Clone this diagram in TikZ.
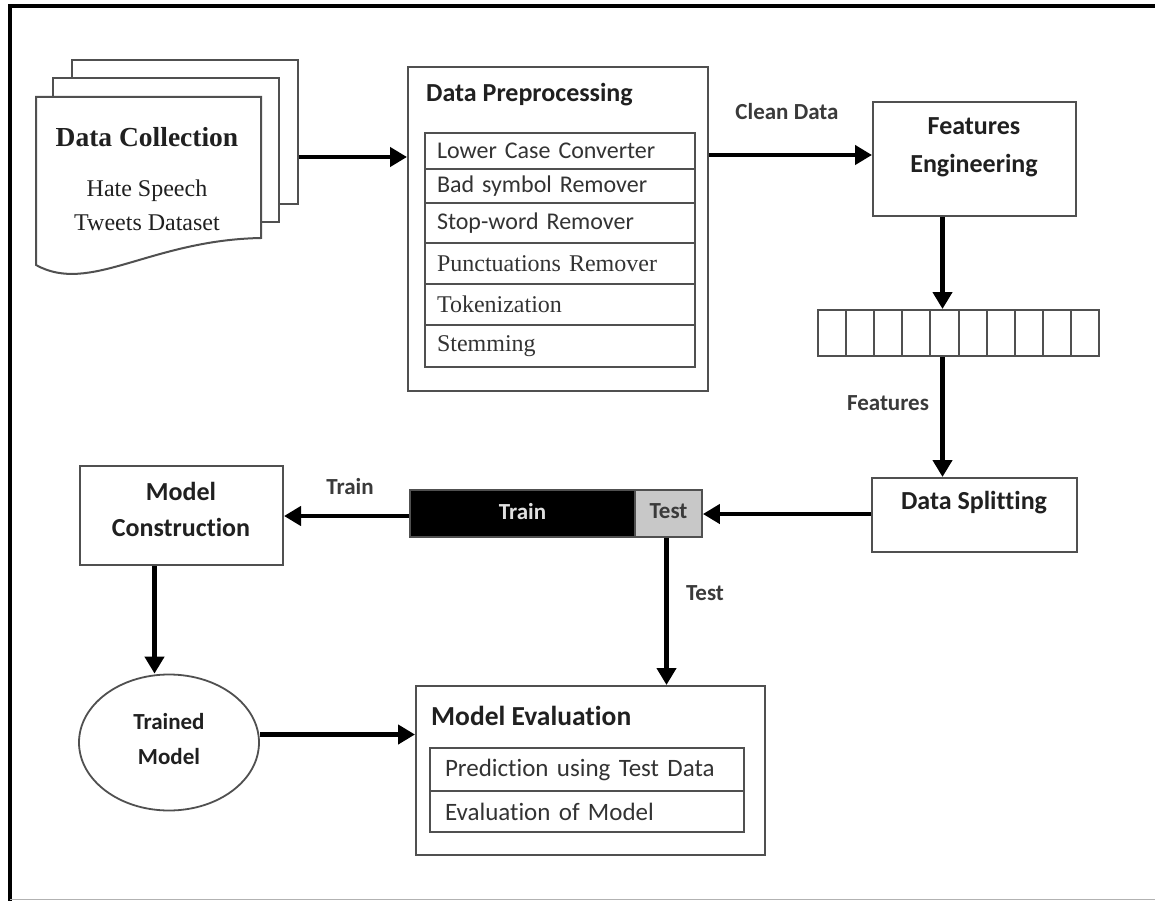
\documentclass[tikz,border=0pt]{standalone}
\usepackage{fontspec}
\setmainfont{Liberation Serif}
\newfontfamily\calfont[Ligatures=NoCommon]{Carlito}
\usetikzlibrary{arrows.meta,shapes.geometric}
\definecolor{boxc}{HTML}{505050}
\definecolor{txtc}{HTML}{202020}
\definecolor{labc}{HTML}{3a3a3a}
\definecolor{rowc}{HTML}{333333}
\definecolor{testc}{HTML}{C8C8C8}
\begin{document}
\begin{tikzpicture}[x=1pt,y=-1pt,
  box/.style={draw=boxc, line width=2pt, fill=white, inner sep=0pt},
  row/.style={draw=boxc, line width=1.8pt, inner ysep=0pt, align=left, text=rowc},
  arr/.style={line width=4.5pt, -{Triangle[length=17pt,width=19pt]}},
  hd/.style={font=\calfont\bfseries\fontsize{26}{38}\selectfont, text=txtc, align=center, inner sep=0pt},
  lab/.style={font=\calfont\bfseries\fontsize{23}{26}\selectfont, text=labc, inner sep=0pt},
  calrow/.style={font=\calfont\fontsize{24}{27}\selectfont},
  serrow/.style={font=\fontsize{24}{27}\selectfont},
  sheet/.style={draw=boxc, line width=2pt, fill=white}
]
\useasboundingbox (0,0) rectangle (1155,901);
\fill[white] (0,0) rectangle (1155,901);
% frame
\draw[line width=4.5pt] (10,901) -- (10,6) -- (1155,6);
\draw[gray!60, line width=1.5pt] (10,899.5) -- (1155,899.5);

% data collection stack
\node[sheet, minimum width=226pt, minimum height=144pt, inner sep=0pt] (dc3) at (185,132) {};
\node[sheet, minimum width=226pt, minimum height=144pt, inner sep=0pt] (dc2) at (166,150) {};
\draw[sheet] (36,97) -- (261,97) -- (261,238) .. controls (150,240) and (90,295) .. (36,265) -- cycle;
\node[font=\bfseries\fontsize{27.5}{30}\selectfont, text=txtc, inner sep=0pt] (dct) at (147,137) {Data Collection};
\node[font=\fontsize{24}{34}\selectfont, text=txtc, align=center, inner sep=0pt] (dcs) at (147,205) {Hate Speech\\Tweets Dataset};

% data preprocessing
\node[box, minimum width=300pt, minimum height=324pt] (pp) at (558,229) {};
\node[hd, anchor=west] (ppt) at (426,95) {Data Preprocessing};
\node[row, calrow, text width=246pt, inner xsep=12pt, minimum height=36pt] (r1) at (560,151) {Lower Case Converter};
\node[row, calrow, text width=246pt, inner xsep=12pt, minimum height=34pt] (r2) at (560,186) {Bad symbol Remover};
\node[row, calrow, text width=246pt, inner xsep=12pt, minimum height=40pt] (r3) at (560,223) {Stop-word Remover};
\node[row, serrow, text width=246pt, inner xsep=12pt, minimum height=41pt] (r4) at (560,263.5) {Punctuations Remover};
\node[row, serrow, text width=246pt, inner xsep=12pt, minimum height=41pt] (r5) at (560,304.5) {Tokenization};
\node[row, serrow, text width=246pt, inner xsep=12pt, minimum height=42pt] (r6) at (560,346) {Stemming};

% features engineering
\node[box, minimum width=203pt, minimum height=114pt] (fe) at (974.5,159) {};
\node[hd] (fet) at (974,147) {Features\\Engineering};

% feature vector
\node[box, minimum width=281pt, minimum height=46pt] (vec) at (958.5,333) {};
\foreach \i in {1,...,9} {
  \draw[boxc, line width=2pt] (818+\i*28.1,310) -- (818+\i*28.1,356);
}

% data splitting
\node[box, minimum width=205pt, minimum height=74pt] (ds) at (974.5,515) {};
\node[hd] (dst) at (974,503) {Data Splitting};

% train / test bar
\node[draw=boxc, line width=1.8pt, fill=black, minimum width=225pt, minimum height=47pt, inner sep=0pt,
      font=\calfont\bfseries\fontsize{23}{26}\selectfont, text=white!88!black] (trn) at (522.5,513.5) {\raisebox{5pt}{Train}};
\node[draw=boxc, line width=1.8pt, fill=testc, minimum width=67pt, minimum height=47pt, inner sep=0pt,
      font=\calfont\bfseries\fontsize{23}{26}\selectfont, text=labc] (tst) at (668.5,513.5) {\raisebox{5pt}{Test}};

% model construction
\node[box, minimum width=203pt, minimum height=99pt] (mc) at (181.5,515.5) {};
\node[hd, font=\calfont\bfseries\fontsize{26}{36}\selectfont] (mct) at (181,509) {Model\\Construction};

% trained model
\node[ellipse, draw=boxc, line width=1.8pt, fill=white, minimum width=180pt, minimum height=136pt, inner sep=0pt] (tm) at (169,742.5) {};
\node[font=\calfont\bfseries\fontsize{23}{35}\selectfont, text=txtc, align=center, inner sep=0pt] (tmt) at (169,739) {Trained\\Model};

% model evaluation
\node[box, minimum width=349pt, minimum height=169pt] (me) at (590.5,770.5) {};
\node[hd, font=\calfont\bfseries\fontsize{27.5}{30}\selectfont, anchor=west] (met) at (431,716) {Model Evaluation};
\node[row, font=\calfont\fontsize{25}{28}\selectfont, text width=284pt, inner xsep=15pt, minimum height=43pt] (e1) at (587,769.5) {Prediction using Test Data};
\node[row, font=\calfont\fontsize{25}{28}\selectfont, text width=284pt, inner xsep=15pt, minimum height=41pt] (e2) at (587,811.5) {Evaluation of Model};

% labels
\node[lab] (lclean) at (787,112) {Clean Data};
\node[lab] (lfeat) at (888,403) {Features};
\node[lab] (ltrain) at (350,487) {Train};
\node[lab] (ltest) at (705,593) {Test};

% connectors
\draw[arr] ([yshift=-25pt]dc3.east) -- ([yshift=-25pt]dc3.east -| pp.west);
\draw[arr] ([yshift=4pt]fe.west -| pp.east) -- ([yshift=4pt]fe.west);
\draw[arr] ([xshift=-32pt]fe.south) -- ([xshift=-32pt]fe.south |- vec.north);
\draw[arr] ([xshift=-32pt]fe.south |- vec.south) -- ([xshift=-32pt]fe.south |- ds.north);
\draw[arr] ([yshift=1pt]ds.west) -- ([yshift=1pt]ds.west -| tst.east);
\draw[arr] ([yshift=-2.5pt]trn.west) -- ([yshift=-2.5pt]trn.west -| mc.east);
\draw[arr] ([xshift=-27pt]mc.south) -- ([xshift=-27pt]mc.south |- tm.north);
\draw[arr] ([yshift=8pt]tm.east) -- ([yshift=8pt]tm.east -| me.west);
\draw[arr] ([xshift=-2pt]tst.south) -- ([xshift=-2pt]tst.south |- me.north);
\end{tikzpicture}
\end{document}
